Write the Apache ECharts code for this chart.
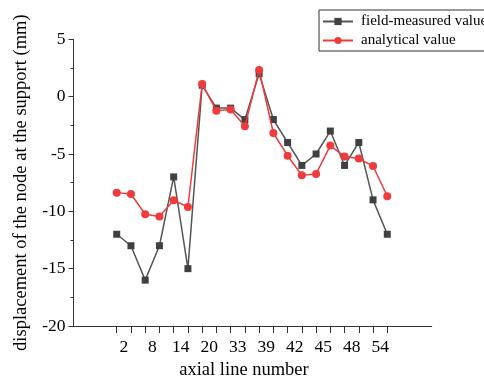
<!DOCTYPE html>
<html>
<head>
<meta charset="utf-8">
<script src="https://cdn.jsdelivr.net/npm/echarts@6/dist/echarts.min.js"></script>
<style>html,body{margin:0;padding:0;background:#fff}#c{width:484px;height:378px}</style>
</head>
<body>
<div id="c"></div>
<script>
var pointCategories = ['1','2','3','4','5','6','7','8','9','10','11','12','13','14','15','16','17','18','19','20'];
var tickLabels = ['2','8','14','20','33','39','42','45','48','54'];
var fieldMeasured = [-12, -13, -16, -13, -7, -15, 1, -1, -1, -2, 2, -2, -4, -6, -5, -3, -6, -4, -9, -12];
var analytical = [-8.37, -8.49, -10.26, -10.46, -9.04, -9.62, 1.1, -1.22, -1.13, -2.59, 2.32, -3.17, -5.15, -6.86, -6.74, -4.27, -5.23, -5.4, -6.05, -8.69];

var FONT = 'Liberation Serif';
var chart = echarts.init(document.getElementById('c'), null, {renderer: 'canvas'});
chart.setOption({
  animation: false,
  backgroundColor: '#fff',
  textStyle: {fontFamily: FONT},
  legend: {
    left: 319, top: 10,
    orient: 'vertical',
    itemWidth: 30, itemHeight: 9, itemGap: 4,
    padding: [4, 20, 3, 3],
    borderColor: '#333', borderWidth: 1, borderRadius: 0,
    textStyle: {fontFamily: FONT, fontSize: 15, color: '#000', padding: [0, 0, 0, 3]},
    data: ['field-measured value', 'analytical value']
  },
  grid: [
    {left: 73.5, width: 358.2, top: 39.3, bottom: 52, containLabel: false, outerBoundsMode: 'none'},
    {left: 109.6, width: 284.8, top: 39.3, bottom: 52, containLabel: false, outerBoundsMode: 'none'}
  ],
  xAxis: [
    {type: 'value', gridIndex: 0, min: 0, max: 1, axisLine: {show: true, onZero: false, lineStyle: {color: '#333', width: 1}},
     axisTick: {show: false}, axisLabel: {show: false}, splitLine: {show: false}},
    {type: 'category', gridIndex: 1, data: pointCategories, boundaryGap: true, position: 'bottom',
     axisLine: {show: false, onZero: false}, axisTick: {show: true, interval: 0, alignWithLabel: true, length: 7, lineStyle: {color: '#333'}},
     axisLabel: {show: false, interval: 0}, splitLine: {show: false}},
    {type: 'category', gridIndex: 1, data: tickLabels, boundaryGap: true, position: 'bottom',
     axisLine: {show: false, onZero: false}, axisTick: {show: false},
     axisLabel: {show: true, margin: 12, fontFamily: FONT, fontSize: 17.5, color: '#000', interval: 0},
     name: 'axial line number', nameLocation: 'middle', nameGap: 33,
     nameTextStyle: {fontFamily: FONT, fontSize: 18.5, color: '#000', padding: [0, 16, 0, 0]}}
  ],
  yAxis: [
    {type: 'value', gridIndex: 0, show: false, min: 0, max: 1},
    {type: 'value', gridIndex: 1, min: -20, max: 5, interval: 5, offset: 36.1,
     axisLine: {show: true, lineStyle: {color: '#333', width: 1}},
     axisTick: {show: true, length: 5, lineStyle: {color: '#333'}},
     minorTick: {show: true, splitNumber: 2, length: 3, lineStyle: {color: '#333'}},
     axisLabel: {margin: 8, fontFamily: FONT, fontSize: 17.5, color: '#000'},
     splitLine: {show: false},
     name: 'displacement of the node at the support (mm)', nameLocation: 'middle', nameGap: 43,
     nameTextStyle: {fontFamily: FONT, fontSize: 18.5, color: '#000'}}
  ],
  series: [
    {name: 'field-measured value', type: 'line', xAxisIndex: 1, yAxisIndex: 1, data: fieldMeasured,
     symbol: 'rect', symbolSize: 7, lineStyle: {color: '#555', width: 1.5},
     itemStyle: {color: '#404040'}, z: 2},
    {name: 'analytical value', type: 'line', xAxisIndex: 1, yAxisIndex: 1, data: analytical,
     symbol: 'circle', symbolSize: 8, lineStyle: {color: '#ee3b3b', width: 1.5},
     itemStyle: {color: '#ee3b3b'}, z: 3}
  ]
});
</script>
</body>
</html>
